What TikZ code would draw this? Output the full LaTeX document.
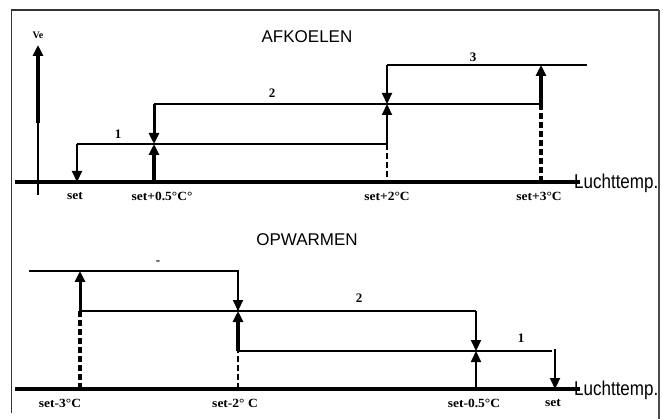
\documentclass[tikz,border=0pt]{standalone}
\usepackage{fontspec}
\setmainfont{Liberation Serif}
\newfontfamily\arialfont{Liberation Sans}
\usetikzlibrary{arrows.meta}
\tikzset{
  tip/.style={-{Triangle[length=11pt,width=10pt]}},
  lvl/.style={line width=1.8pt},
  axisline/.style={line width=3.6pt},
  arr/.style={line width=2.2pt,tip},
  midarr/.style={line width=3pt,tip},
  thickarr/.style={line width=3.8pt,tip},
  dsh/.style={line width=1.8pt,dash pattern=on 6pt off 3pt},
  middsh/.style={line width=2.5pt,dash pattern=on 6pt off 3pt},
  thickdsh/.style={line width=3.2pt,dash pattern=on 6pt off 3pt},
  xlab/.style={font=\bfseries\fontsize{12.5}{13}\selectfont,inner sep=0pt,xscale=1.08},
  nlab/.style={font=\bfseries\fontsize{13}{14}\selectfont,inner sep=0pt},
  title/.style={font=\arialfont\fontsize{17}{18}\selectfont,inner sep=0pt},
  axlab/.style={font=\arialfont\fontsize{20}{22}\selectfont,inner sep=0pt,xscale=0.85,anchor=west},
  frameline/.style={line width=1.6pt,draw=black!80}
}
\begin{document}
\begin{tikzpicture}[x=1pt,y=-1pt]
\useasboundingbox (0,0) rectangle (663,419);
% frame
\coordinate (fbl) at (11.5,413);
\coordinate (ftl) at (11.5,10);
\coordinate (ftr) at (659,10);
\coordinate (fbr) at (659,419);
\draw[frameline] (fbl) -- (ftl) -- (ftr);
\draw[line width=2.4pt,draw=black!70] (ftr) -- (fbr);

% ================= AFKOELEN =================
\node[title] (t1) at (307,37) {AFKOELEN};
\coordinate (ax1a) at (15,182);
\coordinate (ax1b) at (580,182);
\draw[axisline] (ax1a) -- (ax1b);
\node[axlab] (lt1) at (574,183) {Luchttemp.};
% Ve axis
\coordinate (ve0) at (38,195);
\coordinate (vem) at (38,123);
\coordinate (ve1) at (38,45);
\draw[line width=2.2pt] (ve0) -- (vem);
\draw[thickarr] (vem) -- (ve1);
\node[font=\bfseries\fontsize{10}{11}\selectfont,inner sep=0pt] (ve) at (38,35) {Ve};
% coordinates
\coordinate (a1) at (77,182);  \coordinate (a1h) at (77,144);
\coordinate (b0) at (154,182); \coordinate (b1) at (154,144); \coordinate (b2) at (154,104);
\coordinate (c0) at (387,182); \coordinate (c1) at (387,144); \coordinate (c2) at (387,104); \coordinate (c3) at (387,65);
\coordinate (d0) at (541,182); \coordinate (d2) at (541,104); \coordinate (d3) at (541,65);
\coordinate (l2e) at (540,104);
\coordinate (l3e) at (587,65);
% levels
\draw[lvl] (a1h) -- (c1);
\draw[lvl] (b2) -- (l2e);
\draw[lvl] (c3) -- (l3e);
% arrows
\draw[arr] (a1h) -- (a1);
\draw[midarr] (b2) -- (b1);
\draw[thickarr] (b0) -- (b1);
\draw[arr] (c1) -- (c2);
\draw[arr] (c3) -- (c2);
\draw[dsh] (c1) -- (c0);
\draw[thickarr] (d2) -- (d3);
\draw[thickdsh] (d2) -- (d0);
% labels
\node[nlab] (n1) at (118,134) {1};
\node[nlab] (n2) at (272,93) {2};
\node[nlab] (n3) at (473,57) {3};
\node[xlab] (x1) at (75,196) {set};
\node[xlab] (x2) at (162,196) {set+0.5°C°};
\node[xlab] (x3) at (387,196) {set+2°C};
\node[xlab] (x4) at (539,196) {set+3°C};

% ================= OPWARMEN =================
\node[title] (t2) at (307,240) {OPWARMEN};
\coordinate (ax2a) at (15,389);
\coordinate (ax2b) at (580,389);
\coordinate (ax2m) at (312,389);
\draw[axisline] (ax2a) -- (ax2b);
\draw[line width=4.6pt] (ax2m) -- (ax2b);
\node[axlab] (lt2) at (574,390) {Luchttemp.};
% coordinates
\coordinate (la0) at (29,271);
\coordinate (p0) at (80,389); \coordinate (p1) at (80,311); \coordinate (p2) at (80,271);
\coordinate (q0) at (238,389); \coordinate (q1) at (238,351); \coordinate (q2) at (238,311); \coordinate (q3) at (238,271);
\coordinate (r0) at (476,389); \coordinate (r1) at (476,351); \coordinate (r2) at (476,311);
\coordinate (s0) at (555,389); \coordinate (s1) at (555,349);
\coordinate (lce) at (552,351);
% levels
\draw[lvl] (la0) -- (q3) -- (q2);
\draw[lvl] (p1) -- (r2);
\draw[lvl] (q1) -- (lce);
% arrows
\draw[midarr] (p1) -- (p2);
\draw[thickdsh] (p0) -- (p1);
\draw[arr] (q3) -- (q2);
\draw[thickarr] (q1) -- (q2);
\draw[middsh] (q0) -- (q1);
\draw[arr] (r2) -- (r1);
\draw[arr] (r0) -- (r1);
\draw[arr] (s1) -- (s0);
% labels
\node[nlab] (m0) at (158,263) {-};
\node[nlab] (m2) at (359,298) {2};
\node[nlab] (m1) at (521,338) {1};
\node[xlab] (y1) at (60,403) {set-3°C};
\node[xlab] (y2) at (235,403) {set-2° C};
\node[xlab] (y3) at (474,403) {set-0.5°C};
\node[xlab] (y4) at (553,403) {set};
\end{tikzpicture}
\end{document}
